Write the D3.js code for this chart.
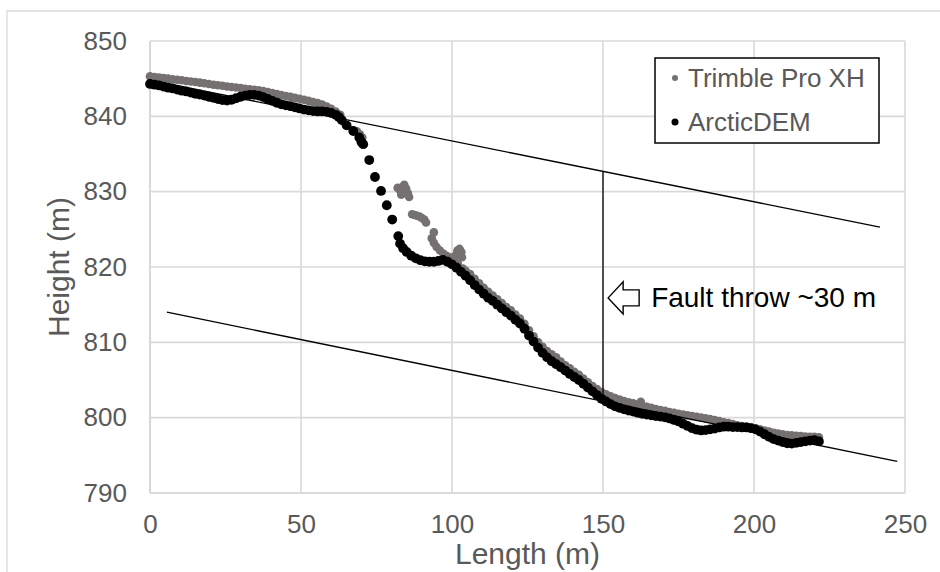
<!DOCTYPE html>
<html><head><meta charset="utf-8">
<script src="https://cdn.jsdelivr.net/npm/d3@7"></script>
<style>body{margin:0;background:#fff}svg{display:block}</style>
</head><body><svg id="c" width="940" height="572"></svg>
<script>
const seriesNames = ["Trimble Pro XH", "ArcticDEM"];
const xTicks = [0, 50, 100, 150, 200, 250];
const yTicks = [790, 800, 810, 820, 830, 840, 850];
const xTitle = "Length (m)";
const yTitle = "Height (m)";

// Trimble Pro XH (grey) [length, height]
const trimble = [
[0,845.3],[1.5,845.22],[3,845.15],[4.5,845.07],[6,845.0],[7.5,844.92],[9,844.85],[10.5,844.78],[12,844.7],[13.5,844.62],
[15,844.55],[16.5,844.47],[18,844.4],[19.5,844.3],[21,844.2],[22.5,844.12],[24,844.05],[25.5,843.97],[27,843.9],[28.5,843.82],
[30,843.75],[31.5,843.67],[33,843.6],[34.5,843.52],[36,843.45],[37.5,843.35],[39,843.22],[40.5,843.1],[42,842.95],[43.5,842.82],
[45,842.7],[46.5,842.58],[48,842.45],[49.5,842.33],[51,842.2],[52.5,842.05],[54,841.9],[55.5,841.75],[57,841.55],[58.5,841.3],
[60,841.0],[61.5,840.65],[63,840.2],
[68.5,838.0],[69.5,837.6],[70.3,837.2],
[82.0,830.5],[82.8,830.2],[83.2,829.6],[83.5,830.6],[84.2,830.9],[84.8,830.4],[85.4,829.8],[85.8,829.3],[84.0,829.9],
[86.8,827.0],[87.6,826.9],[88.4,826.8],[89.2,826.7],[90.0,826.5],[90.8,826.3],[91.4,825.9],
[94.0,824.6],
[93.3,823.8],[94.0,823.2],[94.9,822.65],[96.0,822.2],[97.1,821.8],[98.2,821.5],[99.3,821.3],[100.6,820.9],[101.9,820.45],[103.6,819.8],
[101.3,821.6],[101.8,822.2],[102.5,822.4],[103.1,822.0],[103.3,821.3],
[104.5,819.5],[106,819.05],[107.5,818.45],[109,817.85],[110.5,817.25],[112,816.7],[113.5,816.2],[115,815.7],[116.5,815.2],[118,814.7],
[119.5,814.25],[121,813.7],[122.5,813.15],[124,812.45],[125.5,811.6],[127,810.8],[128.5,810.05],[130,809.4],[131.5,808.85],[133,808.4],
[134.5,808.0],[136,807.45],[137.5,806.95],[139,806.55],[140.5,806.1],[142,805.7],[143.5,805.2],[145,804.7],[146.5,804.2],[148,803.8],
[149.5,803.4],[151,803.1],[152.5,802.85],[154,802.6],[155.5,802.4],[157,802.2],[158.5,802.05],[160,801.9],[161.5,801.75],[162.5,802.1],
[163,801.6],[164.5,801.45],[166,801.3],[167.5,801.15],[169,801.0],[170.5,800.9],[172,800.75],[173.5,800.65],[175,800.5],[176.5,800.4],
[178,800.3],[179.5,800.2],[181,800.1],[182.5,800.0],[184,799.9],[185.5,799.8],[187,799.7],[188.5,799.55],[190,799.4],[191.5,799.3],
[193,799.15],[194.5,799.0],[196,798.9],[197.5,798.8],[199,798.7],[200.5,798.6],[202,798.45],[203.5,798.3],[205,798.15],[206.5,798.0],
[208,797.9],[209.5,797.8],[211,797.7],[212.5,797.65],[214,797.6],[215.5,797.55],[217,797.5],[218.5,797.45],[220,797.45],[221.5,797.4]
];

// ArcticDEM (black) [length, height]
const arctic = [
[0,844.3],[1.5,844.2],[3,844.1],[4.5,843.95],[6,843.8],[7.5,843.7],[9,843.55],[10.5,843.4],[12,843.3],[13.5,843.15],
[15,843.0],[16.5,842.9],[18,842.75],[19.5,842.6],[21,842.45],[22.5,842.3],[24,842.15],[25.5,842.1],[27,842.2],[28.5,842.4],
[30,842.6],[31.5,842.75],[33,842.85],[34.5,842.85],[36,842.75],[37.5,842.55],[39,842.3],[40.5,842.05],[42,841.8],[43.5,841.6],
[45,841.45],[46.5,841.35],[48,841.2],[49.5,841.05],[51,840.9],[52.5,840.8],[54,840.7],[55.5,840.65],[57,840.65],[58.5,840.6],
[60,840.45],[61.5,840.2],[62.5,839.9],[63.5,839.5],
[65.1,838.8],[67.3,838.05],[69.3,837.2],[70.0,836.6],[70.6,836.3],[72.6,834.2],[74.5,831.95],[76.5,830.1],[78.4,828.2],[80.2,826.3],[82.2,824.1],
[82.8,823.1],[83.8,822.5],[85.0,822.0],[86.5,821.5],[88.0,821.15],[89.5,820.9],[91.0,820.75],[92.5,820.7],[94.0,820.7],[95.5,820.8],
[97.0,820.95],[98.5,820.7],[100.0,820.35],[101.5,819.9],[103.0,819.35],[104.5,818.85],[106.0,818.25],[107.5,817.6],[109.0,817.0],[110.5,816.45],
[112.0,815.9],[113.5,815.5],[115.0,815.0],[116.5,814.5],[118.0,814.0],[119.5,813.55],[121.0,813.0],[122.5,812.5],[124.0,811.8],[125.5,810.9],
[127.0,810.1],[128.5,809.3],[130.0,808.6],[131.5,808.0],[133.0,807.5],[134.5,807.1],[136.0,806.7],[137.5,806.25],[139.0,805.8],[140.5,805.4],
[142.0,805.0],[143.5,804.5],[145.0,804.0],[146.5,803.5],[148.0,803.0],[149.5,802.5],[151.0,802.15],[152.5,801.8],[154.0,801.5],[155.5,801.3],
[157.0,801.1],[158.5,800.95],[160.0,800.8],[161.5,800.65],[163.0,800.5],[164.5,800.4],[166.0,800.3],[167.5,800.2],[169.0,800.15],[170.5,800.05],
[172.0,799.9],[173.5,799.7],[175.0,799.5],[176.5,799.2],[178.0,798.9],[179.5,798.6],[181.0,798.4],[182.5,798.3],[184.0,798.35],[185.5,798.45],
[187.0,798.55],[188.5,798.7],[190.0,798.8],[191.5,798.8],[193.0,798.75],[194.5,798.75],[196.0,798.7],[197.5,798.7],[199.0,798.6],[200.5,798.45],
[202.0,798.15],[203.5,797.8],[205.0,797.45],[206.5,797.15],[208.0,796.95],[209.5,796.75],[211.0,796.6],[212.5,796.55],[214.0,796.65],[215.5,796.75],
[217.0,796.85],[218.5,796.95],[220.0,797.0],[221.5,796.85]
];

// Guide lines [x1, y1, x2, y2] in data units
const guideLines = [
[0, 844.8, 241.7, 825.3],
[5.6, 814.0, 247.4, 794.2],
[150, 832.7, 150, 802.2]
];
const annotationAt = [151.7, 815.9];
const annotationText = "Fault throw ~30 m";

const svg = d3.select("#c");
const font = "'Liberation Sans', Arial, sans-serif";
const M = {left:150, right:905, top:41, bottom:493};
const x = d3.scaleLinear().domain([0,250]).range([M.left, M.right]);
const y = d3.scaleLinear().domain([790,850]).range([M.bottom, M.top]);

// outer chart border
svg.append("path").attr("d","M7,572 L7,11 L940,11").attr("fill","none").attr("stroke","#d9d9d9").attr("stroke-width",1.3);

// gridlines
const g = svg.append("g");
g.selectAll(".gx").data(xTicks).join("line")
  .attr("x1",d=>x(d)).attr("x2",d=>x(d)).attr("y1",M.top).attr("y2",M.bottom)
  .attr("stroke",d=>d===0?"#cfcfcf":"#d9d9d9").attr("stroke-width",1.6);
g.selectAll(".gy").data(yTicks).join("line")
  .attr("x1",M.left).attr("x2",M.right).attr("y1",d=>y(d)).attr("y2",d=>y(d))
  .attr("stroke",d=>d===790?"#cfcfcf":"#d9d9d9").attr("stroke-width",1.6);

// axes labels via d3 axes
const xAxis = svg.append("g").attr("transform",`translate(0,${M.bottom})`)
  .call(d3.axisBottom(x).tickValues(xTicks).tickSize(0).tickPadding(22));
const yAxis = svg.append("g").attr("transform",`translate(${M.left},0)`)
  .call(d3.axisLeft(y).tickValues(yTicks).tickSize(0).tickPadding(23));
[xAxis,yAxis].forEach(a=>{
  a.select(".domain").remove();
  a.selectAll("text").attr("fill","#595959").style("font-family",font).style("font-size","26px");
});

// series
svg.append("g").selectAll("circle").data(trimble).join("circle")
  .attr("cx",d=>x(d[0])).attr("cy",d=>y(d[1])).attr("r",4.3).attr("fill","#767171");
svg.append("g").selectAll("circle").data(arctic).join("circle")
  .attr("cx",d=>x(d[0])).attr("cy",d=>y(d[1])).attr("r",4.9).attr("fill","#000");

// guide lines
svg.append("g").selectAll("line").data(guideLines).join("line")
  .attr("x1",d=>x(d[0])).attr("y1",d=>y(d[1])).attr("x2",d=>x(d[2])).attr("y2",d=>y(d[3]))
  .attr("stroke","#000").attr("stroke-width",1.3);

// annotation arrow (hollow, pointing left)
const ax = x(annotationAt[0]), ay = y(annotationAt[1]);
const arrowPts = [[0,0],[15,-16],[15,-8],[31,-8],[31,8],[15,8],[15,16]];
svg.append("polygon")
  .attr("points", arrowPts.map(p=>[ax+p[0], ay+p[1]].join(",")).join(" "))
  .attr("fill","#fff").attr("stroke","#000").attr("stroke-width",1.4);
svg.append("text").attr("x",ax+43).attr("y",ay+9)
  .attr("fill","#000").style("font-family",font).style("font-size","28px").text(annotationText);

// axis titles
svg.append("text").attr("x",(M.left+M.right)/2).attr("y",564).attr("text-anchor","middle")
  .attr("fill","#595959").style("font-family",font).style("font-size","30px").text(xTitle);
svg.append("text").attr("transform",`translate(69,${(M.top+M.bottom)/2}) rotate(-90)`).attr("text-anchor","middle")
  .attr("fill","#595959").style("font-family",font).style("font-size","30px").text(yTitle);

// legend
const lg = svg.append("g");
lg.append("rect").attr("x",655).attr("y",58).attr("width",224).attr("height",85)
  .attr("fill","#fff").attr("stroke","#000").attr("stroke-width",1.5);
const legColors = ["#767171","#000"];
const legR = [3,3.5];
seriesNames.forEach((n,i)=>{
  const cy = 78 + i*44;
  lg.append("circle").attr("cx",675).attr("cy",cy).attr("r",legR[i]).attr("fill",legColors[i]);
  lg.append("text").attr("x",688).attr("y",cy+9).attr("fill","#595959")
    .style("font-family",font).style("font-size","26px").text(n);
});
</script>
</body></html>
